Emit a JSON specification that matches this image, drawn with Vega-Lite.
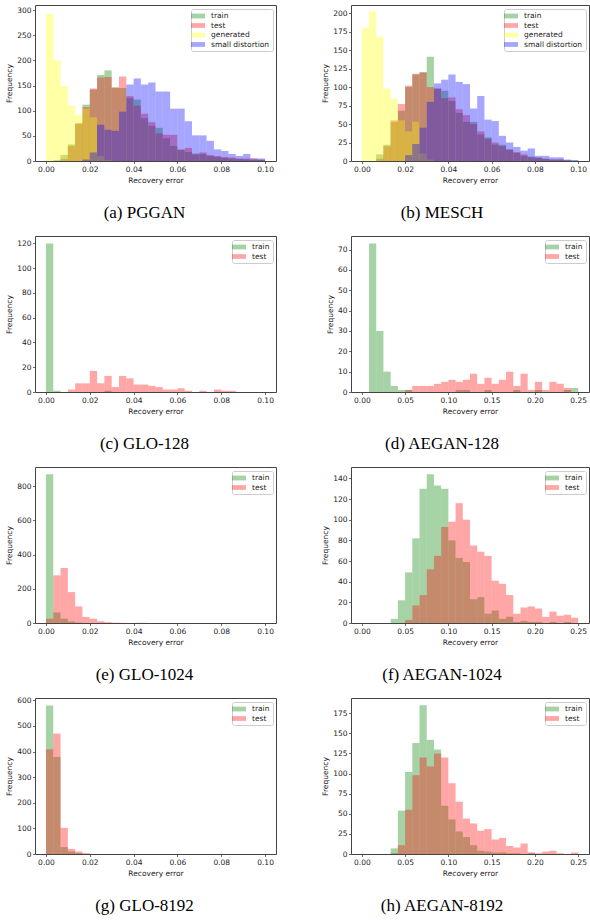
{
  "$schema": "https://vega.github.io/schema/vega-lite/v6.json",
  "background": "white",
  "padding": {"left": 5, "top": 4, "right": 0, "bottom": 0},
  "autosize": {"type": "pad"},
  "columns": 2,
  "spacing": {"row": 75, "column": 75},
  "bounds": "flush",
  "resolve": {
    "scale": {"color": "independent", "x": "independent", "y": "independent"},
    "legend": {"color": "independent"},
    "axis": {"x": "independent", "y": "independent"}
  },
  "datasets": {
    "a": [
      {"x0": 0, "x1": 0.00333, "train": 0, "test": 0, "generated": 292, "small distortion": 0},
      {"x0": 0.00333, "x1": 0.00667, "train": 2, "test": 0, "generated": 200, "small distortion": 0},
      {"x0": 0.00667, "x1": 0.01, "train": 12, "test": 4, "generated": 149, "small distortion": 0},
      {"x0": 0.01, "x1": 0.01333, "train": 33, "test": 30, "generated": 110, "small distortion": 0},
      {"x0": 0.01333, "x1": 0.01667, "train": 75, "test": 74, "generated": 91, "small distortion": 0},
      {"x0": 0.01667, "x1": 0.02, "train": 112, "test": 107, "generated": 104, "small distortion": 3},
      {"x0": 0.02, "x1": 0.02333, "train": 142, "test": 144, "generated": 87, "small distortion": 17},
      {"x0": 0.02333, "x1": 0.02667, "train": 171, "test": 166, "generated": 10, "small distortion": 72},
      {"x0": 0.02667, "x1": 0.03, "train": 180, "test": 167, "generated": 2, "small distortion": 62},
      {"x0": 0.03, "x1": 0.03333, "train": 146, "test": 146, "generated": 0, "small distortion": 60},
      {"x0": 0.03333, "x1": 0.03667, "train": 145, "test": 168, "generated": 0, "small distortion": 98},
      {"x0": 0.03667, "x1": 0.04, "train": 125, "test": 129, "generated": 0, "small distortion": 152},
      {"x0": 0.04, "x1": 0.04333, "train": 122, "test": 110, "generated": 0, "small distortion": 164},
      {"x0": 0.04333, "x1": 0.04667, "train": 85, "test": 94, "generated": 0, "small distortion": 152},
      {"x0": 0.04667, "x1": 0.05, "train": 70, "test": 77, "generated": 0, "small distortion": 156},
      {"x0": 0.05, "x1": 0.05333, "train": 66, "test": 55, "generated": 0, "small distortion": 138},
      {"x0": 0.05333, "x1": 0.05667, "train": 45, "test": 52, "generated": 0, "small distortion": 138},
      {"x0": 0.05667, "x1": 0.06, "train": 30, "test": 52, "generated": 0, "small distortion": 104},
      {"x0": 0.06, "x1": 0.06333, "train": 22, "test": 23, "generated": 0, "small distortion": 104},
      {"x0": 0.06333, "x1": 0.06667, "train": 18, "test": 26, "generated": 0, "small distortion": 79},
      {"x0": 0.06667, "x1": 0.07, "train": 15, "test": 13, "generated": 0, "small distortion": 51},
      {"x0": 0.07, "x1": 0.07333, "train": 14, "test": 17, "generated": 0, "small distortion": 51},
      {"x0": 0.07333, "x1": 0.07667, "train": 10, "test": 12, "generated": 0, "small distortion": 40},
      {"x0": 0.07667, "x1": 0.08, "train": 8, "test": 10, "generated": 0, "small distortion": 23},
      {"x0": 0.08, "x1": 0.08333, "train": 6, "test": 8, "generated": 0, "small distortion": 20},
      {"x0": 0.08333, "x1": 0.08667, "train": 5, "test": 7, "generated": 0, "small distortion": 14},
      {"x0": 0.08667, "x1": 0.09, "train": 4, "test": 5, "generated": 0, "small distortion": 10},
      {"x0": 0.09, "x1": 0.09333, "train": 3, "test": 5, "generated": 0, "small distortion": 14},
      {"x0": 0.09333, "x1": 0.09667, "train": 2, "test": 5, "generated": 0, "small distortion": 5},
      {"x0": 0.09667, "x1": 0.1, "train": 2, "test": 3, "generated": 0, "small distortion": 5}
    ],
    "b": [
      {"x0": 0, "x1": 0.00333, "train": 0, "test": 0, "generated": 180, "small distortion": 0},
      {"x0": 0.00333, "x1": 0.00667, "train": 0, "test": 0, "generated": 202, "small distortion": 0},
      {"x0": 0.00667, "x1": 0.01, "train": 9, "test": 3, "generated": 168, "small distortion": 0},
      {"x0": 0.01, "x1": 0.01333, "train": 22, "test": 20, "generated": 98, "small distortion": 0},
      {"x0": 0.01333, "x1": 0.01667, "train": 53, "test": 55, "generated": 84, "small distortion": 0},
      {"x0": 0.01667, "x1": 0.02, "train": 68, "test": 77, "generated": 55, "small distortion": 0},
      {"x0": 0.02, "x1": 0.02333, "train": 100, "test": 102, "generated": 40, "small distortion": 8},
      {"x0": 0.02333, "x1": 0.02667, "train": 117, "test": 118, "generated": 53, "small distortion": 23},
      {"x0": 0.02667, "x1": 0.03, "train": 120, "test": 120, "generated": 10, "small distortion": 45},
      {"x0": 0.03, "x1": 0.03333, "train": 141, "test": 100, "generated": 2, "small distortion": 80},
      {"x0": 0.03333, "x1": 0.03667, "train": 98, "test": 98, "generated": 0, "small distortion": 105},
      {"x0": 0.03667, "x1": 0.04, "train": 95, "test": 85, "generated": 0, "small distortion": 110},
      {"x0": 0.04, "x1": 0.04333, "train": 81, "test": 86, "generated": 0, "small distortion": 117},
      {"x0": 0.04333, "x1": 0.04667, "train": 65, "test": 70, "generated": 0, "small distortion": 107},
      {"x0": 0.04667, "x1": 0.05, "train": 53, "test": 62, "generated": 0, "small distortion": 104},
      {"x0": 0.05, "x1": 0.05333, "train": 53, "test": 50, "generated": 0, "small distortion": 71},
      {"x0": 0.05333, "x1": 0.05667, "train": 36, "test": 40, "generated": 0, "small distortion": 88},
      {"x0": 0.05667, "x1": 0.06, "train": 32, "test": 30, "generated": 0, "small distortion": 56},
      {"x0": 0.06, "x1": 0.06333, "train": 22, "test": 25, "generated": 0, "small distortion": 54},
      {"x0": 0.06333, "x1": 0.06667, "train": 22, "test": 20, "generated": 0, "small distortion": 34},
      {"x0": 0.06667, "x1": 0.07, "train": 16, "test": 15, "generated": 0, "small distortion": 25},
      {"x0": 0.07, "x1": 0.07333, "train": 11, "test": 12, "generated": 0, "small distortion": 19},
      {"x0": 0.07333, "x1": 0.07667, "train": 7, "test": 9, "generated": 0, "small distortion": 14},
      {"x0": 0.07667, "x1": 0.08, "train": 6, "test": 5, "generated": 0, "small distortion": 17},
      {"x0": 0.08, "x1": 0.08333, "train": 5, "test": 4, "generated": 0, "small distortion": 7},
      {"x0": 0.08333, "x1": 0.08667, "train": 3, "test": 3, "generated": 0, "small distortion": 7},
      {"x0": 0.08667, "x1": 0.09, "train": 2, "test": 2, "generated": 0, "small distortion": 5},
      {"x0": 0.09, "x1": 0.09333, "train": 2, "test": 2, "generated": 0, "small distortion": 5},
      {"x0": 0.09333, "x1": 0.09667, "train": 1, "test": 1, "generated": 0, "small distortion": 2},
      {"x0": 0.09667, "x1": 0.1, "train": 1, "test": 0, "generated": 0, "small distortion": 1}
    ],
    "c": [
      {"x0": 0, "x1": 0.00333, "train": 120, "test": 0},
      {"x0": 0.00333, "x1": 0.00667, "train": 1, "test": 0},
      {"x0": 0.01, "x1": 0.01333, "train": 0, "test": 2},
      {"x0": 0.01333, "x1": 0.01667, "train": 0, "test": 7},
      {"x0": 0.01667, "x1": 0.02, "train": 0, "test": 7},
      {"x0": 0.02, "x1": 0.02333, "train": 0, "test": 17},
      {"x0": 0.02333, "x1": 0.02667, "train": 0, "test": 7},
      {"x0": 0.02667, "x1": 0.03, "train": 1, "test": 13},
      {"x0": 0.03, "x1": 0.03333, "train": 0, "test": 4},
      {"x0": 0.03333, "x1": 0.03667, "train": 0, "test": 13},
      {"x0": 0.03667, "x1": 0.04, "train": 0, "test": 11},
      {"x0": 0.04, "x1": 0.04333, "train": 0, "test": 6},
      {"x0": 0.04333, "x1": 0.04667, "train": 0, "test": 6},
      {"x0": 0.04667, "x1": 0.05, "train": 0, "test": 5},
      {"x0": 0.05, "x1": 0.05333, "train": 0, "test": 4},
      {"x0": 0.05333, "x1": 0.05667, "train": 0, "test": 2},
      {"x0": 0.05667, "x1": 0.06, "train": 0, "test": 2},
      {"x0": 0.06, "x1": 0.06333, "train": 0, "test": 3},
      {"x0": 0.06333, "x1": 0.06667, "train": 0, "test": 1},
      {"x0": 0.07, "x1": 0.07333, "train": 0, "test": 1},
      {"x0": 0.07667, "x1": 0.08, "train": 0, "test": 2},
      {"x0": 0.08, "x1": 0.08333, "train": 0, "test": 1},
      {"x0": 0.08333, "x1": 0.08667, "train": 0, "test": 1}
    ],
    "d": [
      {"x0": 0.00833, "x1": 0.01667, "train": 73, "test": 0},
      {"x0": 0.01667, "x1": 0.025, "train": 30, "test": 0},
      {"x0": 0.025, "x1": 0.03333, "train": 10, "test": 0},
      {"x0": 0.03333, "x1": 0.04167, "train": 3, "test": 0},
      {"x0": 0.04167, "x1": 0.05, "train": 1, "test": 0},
      {"x0": 0.05, "x1": 0.05833, "train": 1, "test": 1},
      {"x0": 0.05833, "x1": 0.06667, "train": 0, "test": 3},
      {"x0": 0.06667, "x1": 0.075, "train": 0, "test": 3},
      {"x0": 0.075, "x1": 0.08333, "train": 0, "test": 3},
      {"x0": 0.08333, "x1": 0.09167, "train": 0, "test": 4},
      {"x0": 0.09167, "x1": 0.1, "train": 0, "test": 5},
      {"x0": 0.1, "x1": 0.10833, "train": 0, "test": 6},
      {"x0": 0.10833, "x1": 0.11667, "train": 1, "test": 5},
      {"x0": 0.11667, "x1": 0.125, "train": 1, "test": 6},
      {"x0": 0.125, "x1": 0.13333, "train": 0, "test": 9},
      {"x0": 0.13333, "x1": 0.14167, "train": 0, "test": 4},
      {"x0": 0.14167, "x1": 0.15, "train": 1, "test": 7},
      {"x0": 0.15, "x1": 0.15833, "train": 0, "test": 4},
      {"x0": 0.15833, "x1": 0.16667, "train": 0, "test": 6},
      {"x0": 0.16667, "x1": 0.175, "train": 0, "test": 10},
      {"x0": 0.175, "x1": 0.18333, "train": 1, "test": 3},
      {"x0": 0.18333, "x1": 0.19167, "train": 0, "test": 9},
      {"x0": 0.19167, "x1": 0.2, "train": 0, "test": 1},
      {"x0": 0.2, "x1": 0.20833, "train": 1, "test": 5},
      {"x0": 0.20833, "x1": 0.21667, "train": 0, "test": 1},
      {"x0": 0.21667, "x1": 0.225, "train": 0, "test": 5},
      {"x0": 0.225, "x1": 0.23333, "train": 0, "test": 4},
      {"x0": 0.23333, "x1": 0.24167, "train": 1, "test": 2},
      {"x0": 0.24167, "x1": 0.25, "train": 2, "test": 0}
    ],
    "e": [
      {"x0": 0, "x1": 0.00333, "train": 870, "test": 25},
      {"x0": 0.00333, "x1": 0.00667, "train": 62, "test": 279},
      {"x0": 0.00667, "x1": 0.01, "train": 25, "test": 322},
      {"x0": 0.01, "x1": 0.01333, "train": 8, "test": 181},
      {"x0": 0.01333, "x1": 0.01667, "train": 2, "test": 97},
      {"x0": 0.01667, "x1": 0.02, "train": 0, "test": 35},
      {"x0": 0.02, "x1": 0.02333, "train": 0, "test": 25},
      {"x0": 0.02333, "x1": 0.02667, "train": 0, "test": 10},
      {"x0": 0.02667, "x1": 0.03, "train": 0, "test": 5},
      {"x0": 0.03, "x1": 0.03333, "train": 0, "test": 2},
      {"x0": 0.03333, "x1": 0.03667, "train": 0, "test": 1},
      {"x0": 0.04, "x1": 0.04333, "train": 0, "test": 1},
      {"x0": 0.04333, "x1": 0.04667, "train": 0, "test": 1}
    ],
    "f": [
      {"x0": 0.03333, "x1": 0.04167, "train": 4, "test": 0},
      {"x0": 0.04167, "x1": 0.05, "train": 22, "test": 0},
      {"x0": 0.05, "x1": 0.05833, "train": 49, "test": 3},
      {"x0": 0.05833, "x1": 0.06667, "train": 82, "test": 17},
      {"x0": 0.06667, "x1": 0.075, "train": 130, "test": 27},
      {"x0": 0.075, "x1": 0.08333, "train": 144, "test": 52},
      {"x0": 0.08333, "x1": 0.09167, "train": 133, "test": 65},
      {"x0": 0.09167, "x1": 0.1, "train": 130, "test": 93},
      {"x0": 0.1, "x1": 0.10833, "train": 80, "test": 98},
      {"x0": 0.10833, "x1": 0.11667, "train": 63, "test": 116},
      {"x0": 0.11667, "x1": 0.125, "train": 59, "test": 100},
      {"x0": 0.125, "x1": 0.13333, "train": 23, "test": 75},
      {"x0": 0.13333, "x1": 0.14167, "train": 25, "test": 69},
      {"x0": 0.14167, "x1": 0.15, "train": 9, "test": 65},
      {"x0": 0.15, "x1": 0.15833, "train": 12, "test": 41},
      {"x0": 0.15833, "x1": 0.16667, "train": 4, "test": 38},
      {"x0": 0.16667, "x1": 0.175, "train": 6, "test": 27},
      {"x0": 0.175, "x1": 0.18333, "train": 1, "test": 9},
      {"x0": 0.18333, "x1": 0.19167, "train": 2, "test": 15},
      {"x0": 0.19167, "x1": 0.2, "train": 1, "test": 16},
      {"x0": 0.2, "x1": 0.20833, "train": 1, "test": 14},
      {"x0": 0.20833, "x1": 0.21667, "train": 0, "test": 6},
      {"x0": 0.21667, "x1": 0.225, "train": 1, "test": 11},
      {"x0": 0.225, "x1": 0.23333, "train": 0, "test": 7},
      {"x0": 0.23333, "x1": 0.24167, "train": 1, "test": 8},
      {"x0": 0.24167, "x1": 0.25, "train": 0, "test": 5}
    ],
    "g": [
      {"x0": 0, "x1": 0.00333, "train": 580, "test": 409},
      {"x0": 0.00333, "x1": 0.00667, "train": 379, "test": 470},
      {"x0": 0.00667, "x1": 0.01, "train": 27, "test": 102},
      {"x0": 0.01, "x1": 0.01333, "train": 10, "test": 20},
      {"x0": 0.01333, "x1": 0.01667, "train": 4, "test": 10},
      {"x0": 0.01667, "x1": 0.02, "train": 1, "test": 3}
    ],
    "h": [
      {"x0": 0.03333, "x1": 0.04167, "train": 7, "test": 1},
      {"x0": 0.04167, "x1": 0.05, "train": 54, "test": 11},
      {"x0": 0.05, "x1": 0.05833, "train": 102, "test": 55},
      {"x0": 0.05833, "x1": 0.06667, "train": 138, "test": 98},
      {"x0": 0.06667, "x1": 0.075, "train": 185, "test": 120},
      {"x0": 0.075, "x1": 0.08333, "train": 142, "test": 109},
      {"x0": 0.08333, "x1": 0.09167, "train": 130, "test": 125},
      {"x0": 0.09167, "x1": 0.1, "train": 60, "test": 120},
      {"x0": 0.1, "x1": 0.10833, "train": 43, "test": 88},
      {"x0": 0.10833, "x1": 0.11667, "train": 28, "test": 65},
      {"x0": 0.11667, "x1": 0.125, "train": 21, "test": 44},
      {"x0": 0.125, "x1": 0.13333, "train": 11, "test": 38},
      {"x0": 0.13333, "x1": 0.14167, "train": 4, "test": 29},
      {"x0": 0.14167, "x1": 0.15, "train": 3, "test": 31},
      {"x0": 0.15, "x1": 0.15833, "train": 2, "test": 18},
      {"x0": 0.15833, "x1": 0.16667, "train": 2, "test": 20},
      {"x0": 0.16667, "x1": 0.175, "train": 1, "test": 10},
      {"x0": 0.175, "x1": 0.18333, "train": 1, "test": 8},
      {"x0": 0.18333, "x1": 0.19167, "train": 0, "test": 13},
      {"x0": 0.19167, "x1": 0.2, "train": 1, "test": 2},
      {"x0": 0.2, "x1": 0.20833, "train": 0, "test": 1},
      {"x0": 0.20833, "x1": 0.21667, "train": 0, "test": 3},
      {"x0": 0.21667, "x1": 0.225, "train": 0, "test": 4},
      {"x0": 0.225, "x1": 0.23333, "train": 0, "test": 1},
      {"x0": 0.24167, "x1": 0.25, "train": 0, "test": 2}
    ]
  },
  "concat": [
    {
      "width": 241, "height": 156,
      "data": {"name": "a"},
      "transform": [{"fold": ["train", "test", "generated", "small distortion"], "as": ["s", "n"]}],
      "title": {"text": "(a) PGGAN", "dx": -11},
      "mark": {"type": "bar", "opacity": 0.35},
      "encoding": {
        "x": {"field": "x0", "type": "quantitative", "scale": {"domain": [-0.005, 0.105], "nice": false, "zero": false}, "axis": {"values": [0, 0.02, 0.04, 0.06, 0.08, 0.1], "format": ".2f", "title": "Recovery error"}},
        "x2": {"field": "x1"},
        "y": {"field": "n", "type": "quantitative", "stack": null, "scale": {"domain": [0, 310], "nice": false}, "axis": {"values": [0, 50, 100, 150, 200, 250, 300], "title": "Frequency"}},
        "y2": {"datum": 0},
        "color": {"field": "s", "type": "nominal", "scale": {"domain": ["train", "test", "generated", "small distortion"], "range": ["#008000", "#ff0000", "#ffff00", "#0000ff"]}, "legend": {"title": null}}
      }
    },
    {
      "width": 238, "height": 156,
      "data": {"name": "b"},
      "transform": [{"fold": ["train", "test", "generated", "small distortion"], "as": ["s", "n"]}],
      "title": {"text": "(b) MESCH", "dx": -28},
      "mark": {"type": "bar", "opacity": 0.35},
      "encoding": {
        "x": {"field": "x0", "type": "quantitative", "scale": {"domain": [-0.005, 0.105], "nice": false, "zero": false}, "axis": {"values": [0, 0.02, 0.04, 0.06, 0.08, 0.1], "format": ".2f", "title": "Recovery error"}},
        "x2": {"field": "x1"},
        "y": {"field": "n", "type": "quantitative", "stack": null, "scale": {"domain": [0, 211], "nice": false}, "axis": {"values": [0, 25, 50, 75, 100, 125, 150, 175, 200], "title": "Frequency"}},
        "y2": {"datum": 0},
        "color": {"field": "s", "type": "nominal", "scale": {"domain": ["train", "test", "generated", "small distortion"], "range": ["#008000", "#ff0000", "#ffff00", "#0000ff"]}, "legend": {"title": null}}
      }
    },
    {
      "width": 241, "height": 156,
      "data": {"name": "c"},
      "transform": [{"fold": ["train", "test"], "as": ["s", "n"]}],
      "title": {"text": "(c) GLO-128", "dx": -11},
      "mark": {"type": "bar", "opacity": 0.35},
      "encoding": {
        "x": {"field": "x0", "type": "quantitative", "scale": {"domain": [-0.005, 0.105], "nice": false, "zero": false}, "axis": {"values": [0, 0.02, 0.04, 0.06, 0.08, 0.1], "format": ".2f", "title": "Recovery error"}},
        "x2": {"field": "x1"},
        "y": {"field": "n", "type": "quantitative", "stack": null, "scale": {"domain": [0, 126], "nice": false}, "axis": {"values": [0, 20, 40, 60, 80, 100, 120], "title": "Frequency"}},
        "y2": {"datum": 0},
        "color": {"field": "s", "type": "nominal", "scale": {"domain": ["train", "test"], "range": ["#008000", "#ff0000"]}, "legend": {"title": null}}
      }
    },
    {
      "width": 238, "height": 156,
      "data": {"name": "d"},
      "transform": [{"fold": ["train", "test"], "as": ["s", "n"]}],
      "title": {"text": "(d) AEGAN-128", "dx": -28},
      "mark": {"type": "bar", "opacity": 0.35},
      "encoding": {
        "x": {"field": "x0", "type": "quantitative", "scale": {"domain": [-0.0125, 0.2625], "nice": false, "zero": false}, "axis": {"values": [0, 0.05, 0.1, 0.15, 0.2, 0.25], "format": ".2f", "title": "Recovery error"}},
        "x2": {"field": "x1"},
        "y": {"field": "n", "type": "quantitative", "stack": null, "scale": {"domain": [0, 76.7], "nice": false}, "axis": {"values": [0, 10, 20, 30, 40, 50, 60, 70], "title": "Frequency"}},
        "y2": {"datum": 0},
        "color": {"field": "s", "type": "nominal", "scale": {"domain": ["train", "test"], "range": ["#008000", "#ff0000"]}, "legend": {"title": null}}
      }
    },
    {
      "width": 241, "height": 156,
      "data": {"name": "e"},
      "transform": [{"fold": ["train", "test"], "as": ["s", "n"]}],
      "title": {"text": "(e) GLO-1024", "dx": -11},
      "mark": {"type": "bar", "opacity": 0.35},
      "encoding": {
        "x": {"field": "x0", "type": "quantitative", "scale": {"domain": [-0.005, 0.105], "nice": false, "zero": false}, "axis": {"values": [0, 0.02, 0.04, 0.06, 0.08, 0.1], "format": ".2f", "title": "Recovery error"}},
        "x2": {"field": "x1"},
        "y": {"field": "n", "type": "quantitative", "stack": null, "scale": {"domain": [0, 913], "nice": false}, "axis": {"values": [0, 200, 400, 600, 800], "title": "Frequency"}},
        "y2": {"datum": 0},
        "color": {"field": "s", "type": "nominal", "scale": {"domain": ["train", "test"], "range": ["#008000", "#ff0000"]}, "legend": {"title": null}}
      }
    },
    {
      "width": 238, "height": 156,
      "data": {"name": "f"},
      "transform": [{"fold": ["train", "test"], "as": ["s", "n"]}],
      "title": {"text": "(f) AEGAN-1024", "dx": -28},
      "mark": {"type": "bar", "opacity": 0.35},
      "encoding": {
        "x": {"field": "x0", "type": "quantitative", "scale": {"domain": [-0.0125, 0.2625], "nice": false, "zero": false}, "axis": {"values": [0, 0.05, 0.1, 0.15, 0.2, 0.25], "format": ".2f", "title": "Recovery error"}},
        "x2": {"field": "x1"},
        "y": {"field": "n", "type": "quantitative", "stack": null, "scale": {"domain": [0, 151], "nice": false}, "axis": {"values": [0, 20, 40, 60, 80, 100, 120, 140], "title": "Frequency"}},
        "y2": {"datum": 0},
        "color": {"field": "s", "type": "nominal", "scale": {"domain": ["train", "test"], "range": ["#008000", "#ff0000"]}, "legend": {"title": null}}
      }
    },
    {
      "width": 241, "height": 156,
      "data": {"name": "g"},
      "transform": [{"fold": ["train", "test"], "as": ["s", "n"]}],
      "title": {"text": "(g) GLO-8192", "dx": -11},
      "mark": {"type": "bar", "opacity": 0.35},
      "encoding": {
        "x": {"field": "x0", "type": "quantitative", "scale": {"domain": [-0.005, 0.105], "nice": false, "zero": false}, "axis": {"values": [0, 0.02, 0.04, 0.06, 0.08, 0.1], "format": ".2f", "title": "Recovery error"}},
        "x2": {"field": "x1"},
        "y": {"field": "n", "type": "quantitative", "stack": null, "scale": {"domain": [0, 609], "nice": false}, "axis": {"values": [0, 100, 200, 300, 400, 500, 600], "title": "Frequency"}},
        "y2": {"datum": 0},
        "color": {"field": "s", "type": "nominal", "scale": {"domain": ["train", "test"], "range": ["#008000", "#ff0000"]}, "legend": {"title": null}}
      }
    },
    {
      "width": 238, "height": 156,
      "data": {"name": "h"},
      "transform": [{"fold": ["train", "test"], "as": ["s", "n"]}],
      "title": {"text": "(h) AEGAN-8192", "dx": -28},
      "mark": {"type": "bar", "opacity": 0.35},
      "encoding": {
        "x": {"field": "x0", "type": "quantitative", "scale": {"domain": [-0.0125, 0.2625], "nice": false, "zero": false}, "axis": {"values": [0, 0.05, 0.1, 0.15, 0.2, 0.25], "format": ".2f", "title": "Recovery error"}},
        "x2": {"field": "x1"},
        "y": {"field": "n", "type": "quantitative", "stack": null, "scale": {"domain": [0, 194], "nice": false}, "axis": {"values": [0, 25, 50, 75, 100, 125, 150, 175], "title": "Frequency"}},
        "y2": {"datum": 0},
        "color": {"field": "s", "type": "nominal", "scale": {"domain": ["train", "test"], "range": ["#008000", "#ff0000"]}, "legend": {"title": null}}
      }
    }
  ],
  "config": {
    "view": {"stroke": "#444444", "strokeWidth": 1},
    "axis": {
      "domain": false, "grid": false, "ticks": true, "tickSize": 2.5, "tickColor": "#444444", "tickWidth": 0.8,
      "labelFont": "DejaVu Sans", "labelFontSize": 7.5, "labelColor": "#222222", "labelPadding": 1.5,
      "labelFlush": false, "labelOverlap": false,
      "titleFont": "DejaVu Sans", "titleFontSize": 7.5, "titleFontWeight": "normal", "titleColor": "#222222"
    },
    "axisX": {"titlePadding": 4},
    "axisY": {"titlePadding": 3},
    "legend": {
      "orient": "top-right", "offset": 3.5, "padding": 3,
      "symbolType": "M-1.75,-0.6H1.75V0.6H-1.75Z", "symbolSize": 64, "symbolOpacity": 0.35, "symbolStrokeWidth": 0,
      "labelFont": "DejaVu Sans", "labelFontSize": 7.5, "labelColor": "#222222", "labelOffset": 9,
      "rowPadding": 1.5, "strokeColor": "#cccccc", "fillColor": "white", "cornerRadius": 2
    },
    "title": {
      "font": "Liberation Serif", "fontSize": 17, "fontWeight": "normal", "color": "#000000",
      "orient": "bottom", "offset": 21, "anchor": "middle", "frame": "group"
    }
  }
}
